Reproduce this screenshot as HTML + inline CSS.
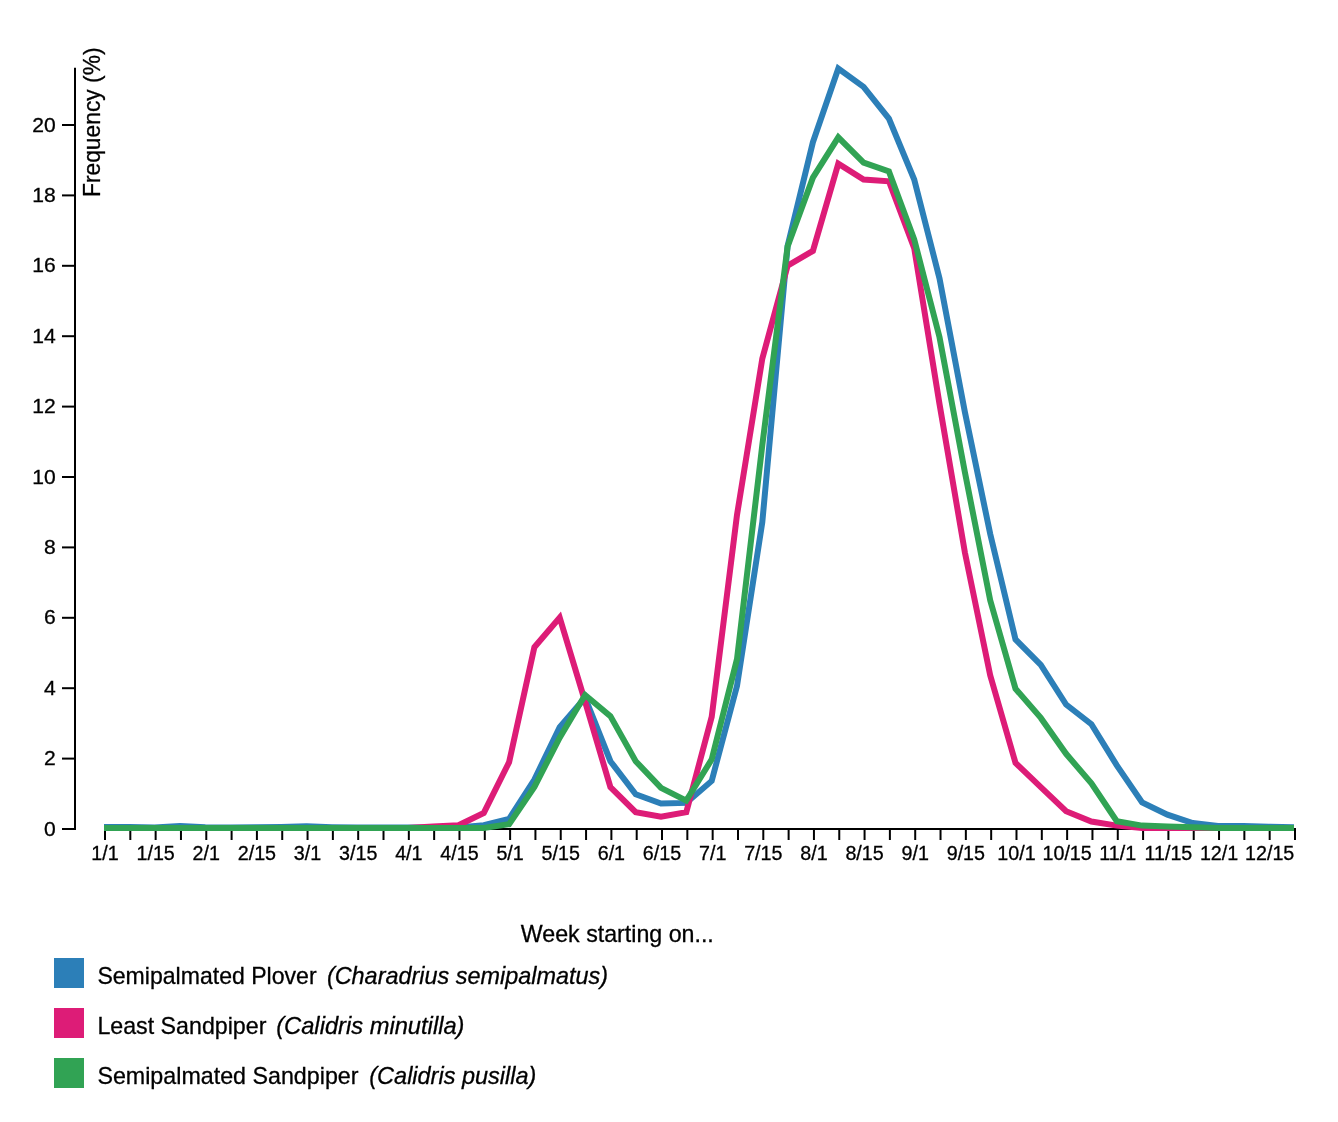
<!DOCTYPE html>
<html lang="en"><head><meta charset="utf-8"><title>Shorebird frequency</title>
<style>
html,body{margin:0;padding:0;background:#fff;}
svg{display:block;font-family:"Liberation Sans",sans-serif;}
.axis line,.axis path{stroke:#000;stroke-width:2;fill:none;}
.axis text{font-size:19.7px;fill:#000;}
.ln{fill:none;stroke-width:6;stroke-linejoin:miter;stroke-linecap:butt;}
.lbl{font-size:24px;fill:#000;}
text{stroke:#000;stroke-width:0.3px;}
.albl{font-size:24px;fill:#000;}
</style></head><body>
<svg width="1338" height="1122" viewBox="0 0 1338 1122">

<g class="axis">
<path d="M75.00,67.80V830.00"/>
<line x1="62.00" x2="75.00" y1="829.00" y2="829.00"/>
<text transform="translate(55.80,835.50) scale(1.07,1)" text-anchor="end">0</text>
<line x1="62.00" x2="75.00" y1="758.60" y2="758.60"/>
<text transform="translate(55.80,765.10) scale(1.07,1)" text-anchor="end">2</text>
<line x1="62.00" x2="75.00" y1="688.20" y2="688.20"/>
<text transform="translate(55.80,694.70) scale(1.07,1)" text-anchor="end">4</text>
<line x1="62.00" x2="75.00" y1="617.80" y2="617.80"/>
<text transform="translate(55.80,624.30) scale(1.07,1)" text-anchor="end">6</text>
<line x1="62.00" x2="75.00" y1="547.40" y2="547.40"/>
<text transform="translate(55.80,553.90) scale(1.07,1)" text-anchor="end">8</text>
<line x1="62.00" x2="75.00" y1="477.00" y2="477.00"/>
<text transform="translate(55.80,483.50) scale(1.07,1)" text-anchor="end">10</text>
<line x1="62.00" x2="75.00" y1="406.60" y2="406.60"/>
<text transform="translate(55.80,413.10) scale(1.07,1)" text-anchor="end">12</text>
<line x1="62.00" x2="75.00" y1="336.20" y2="336.20"/>
<text transform="translate(55.80,342.70) scale(1.07,1)" text-anchor="end">14</text>
<line x1="62.00" x2="75.00" y1="265.80" y2="265.80"/>
<text transform="translate(55.80,272.30) scale(1.07,1)" text-anchor="end">16</text>
<line x1="62.00" x2="75.00" y1="195.40" y2="195.40"/>
<text transform="translate(55.80,201.90) scale(1.07,1)" text-anchor="end">18</text>
<line x1="62.00" x2="75.00" y1="125.00" y2="125.00"/>
<text transform="translate(55.80,131.50) scale(1.07,1)" text-anchor="end">20</text>
</g>
<g class="axis">
<path d="M105.00,840.00V829.00H1295.00V840.00"/>
<line x1="105.00" x2="105.00" y1="828.00" y2="840.00"/>
<text transform="translate(105.00,859.90) scale(1.0,1)" text-anchor="middle">1/1</text>
<line x1="130.32" x2="130.32" y1="828.00" y2="840.00"/>
<line x1="155.64" x2="155.64" y1="828.00" y2="840.00"/>
<text transform="translate(155.64,859.90) scale(1.0,1)" text-anchor="middle">1/15</text>
<line x1="180.96" x2="180.96" y1="828.00" y2="840.00"/>
<line x1="206.28" x2="206.28" y1="828.00" y2="840.00"/>
<text transform="translate(206.28,859.90) scale(1.0,1)" text-anchor="middle">2/1</text>
<line x1="231.60" x2="231.60" y1="828.00" y2="840.00"/>
<line x1="256.91" x2="256.91" y1="828.00" y2="840.00"/>
<text transform="translate(256.91,859.90) scale(1.0,1)" text-anchor="middle">2/15</text>
<line x1="282.23" x2="282.23" y1="828.00" y2="840.00"/>
<line x1="307.55" x2="307.55" y1="828.00" y2="840.00"/>
<text transform="translate(307.55,859.90) scale(1.0,1)" text-anchor="middle">3/1</text>
<line x1="332.87" x2="332.87" y1="828.00" y2="840.00"/>
<line x1="358.19" x2="358.19" y1="828.00" y2="840.00"/>
<text transform="translate(358.19,859.90) scale(1.0,1)" text-anchor="middle">3/15</text>
<line x1="383.51" x2="383.51" y1="828.00" y2="840.00"/>
<line x1="408.83" x2="408.83" y1="828.00" y2="840.00"/>
<text transform="translate(408.83,859.90) scale(1.0,1)" text-anchor="middle">4/1</text>
<line x1="434.15" x2="434.15" y1="828.00" y2="840.00"/>
<line x1="459.47" x2="459.47" y1="828.00" y2="840.00"/>
<text transform="translate(459.47,859.90) scale(1.0,1)" text-anchor="middle">4/15</text>
<line x1="484.79" x2="484.79" y1="828.00" y2="840.00"/>
<line x1="510.11" x2="510.11" y1="828.00" y2="840.00"/>
<text transform="translate(510.11,859.90) scale(1.0,1)" text-anchor="middle">5/1</text>
<line x1="535.43" x2="535.43" y1="828.00" y2="840.00"/>
<line x1="560.74" x2="560.74" y1="828.00" y2="840.00"/>
<text transform="translate(560.74,859.90) scale(1.0,1)" text-anchor="middle">5/15</text>
<line x1="586.06" x2="586.06" y1="828.00" y2="840.00"/>
<line x1="611.38" x2="611.38" y1="828.00" y2="840.00"/>
<text transform="translate(611.38,859.90) scale(1.0,1)" text-anchor="middle">6/1</text>
<line x1="636.70" x2="636.70" y1="828.00" y2="840.00"/>
<line x1="662.02" x2="662.02" y1="828.00" y2="840.00"/>
<text transform="translate(662.02,859.90) scale(1.0,1)" text-anchor="middle">6/15</text>
<line x1="687.34" x2="687.34" y1="828.00" y2="840.00"/>
<line x1="712.66" x2="712.66" y1="828.00" y2="840.00"/>
<text transform="translate(712.66,859.90) scale(1.0,1)" text-anchor="middle">7/1</text>
<line x1="737.98" x2="737.98" y1="828.00" y2="840.00"/>
<line x1="763.30" x2="763.30" y1="828.00" y2="840.00"/>
<text transform="translate(763.30,859.90) scale(1.0,1)" text-anchor="middle">7/15</text>
<line x1="788.62" x2="788.62" y1="828.00" y2="840.00"/>
<line x1="813.94" x2="813.94" y1="828.00" y2="840.00"/>
<text transform="translate(813.94,859.90) scale(1.0,1)" text-anchor="middle">8/1</text>
<line x1="839.26" x2="839.26" y1="828.00" y2="840.00"/>
<line x1="864.57" x2="864.57" y1="828.00" y2="840.00"/>
<text transform="translate(864.57,859.90) scale(1.0,1)" text-anchor="middle">8/15</text>
<line x1="889.89" x2="889.89" y1="828.00" y2="840.00"/>
<line x1="915.21" x2="915.21" y1="828.00" y2="840.00"/>
<text transform="translate(915.21,859.90) scale(1.0,1)" text-anchor="middle">9/1</text>
<line x1="940.53" x2="940.53" y1="828.00" y2="840.00"/>
<line x1="965.85" x2="965.85" y1="828.00" y2="840.00"/>
<text transform="translate(965.85,859.90) scale(1.0,1)" text-anchor="middle">9/15</text>
<line x1="991.17" x2="991.17" y1="828.00" y2="840.00"/>
<line x1="1016.49" x2="1016.49" y1="828.00" y2="840.00"/>
<text transform="translate(1016.49,859.90) scale(1.0,1)" text-anchor="middle">10/1</text>
<line x1="1041.81" x2="1041.81" y1="828.00" y2="840.00"/>
<line x1="1067.13" x2="1067.13" y1="828.00" y2="840.00"/>
<text transform="translate(1067.13,859.90) scale(1.0,1)" text-anchor="middle">10/15</text>
<line x1="1092.45" x2="1092.45" y1="828.00" y2="840.00"/>
<line x1="1117.77" x2="1117.77" y1="828.00" y2="840.00"/>
<text transform="translate(1117.77,859.90) scale(1.0,1)" text-anchor="middle">11/1</text>
<line x1="1143.09" x2="1143.09" y1="828.00" y2="840.00"/>
<line x1="1168.40" x2="1168.40" y1="828.00" y2="840.00"/>
<text transform="translate(1168.40,859.90) scale(1.0,1)" text-anchor="middle">11/15</text>
<line x1="1193.72" x2="1193.72" y1="828.00" y2="840.00"/>
<line x1="1219.04" x2="1219.04" y1="828.00" y2="840.00"/>
<text transform="translate(1219.04,859.90) scale(1.0,1)" text-anchor="middle">12/1</text>
<line x1="1244.36" x2="1244.36" y1="828.00" y2="840.00"/>
<line x1="1269.68" x2="1269.68" y1="828.00" y2="840.00"/>
<text transform="translate(1269.68,859.90) scale(1.0,1)" text-anchor="middle">12/15</text>
<line x1="1295.00" x2="1295.00" y1="828.00" y2="840.00"/>
</g>
<path class="ln" stroke="#2c7fb8" d="M104.0,827.0L129.3,827.0L154.6,827.6L180.0,826.1L205.3,827.3L230.6,827.6L255.9,827.3L281.2,827.0L306.6,826.3L331.9,827.2L357.2,827.6L382.5,827.5L407.8,827.6L433.1,827.6L458.5,827.6L483.8,825.2L509.1,818.9L534.4,779.5L559.7,727.1L585.1,697.8L610.4,761.2L635.7,794.3L661.0,803.6L686.3,802.9L711.7,780.9L737.0,685.9L762.3,522.2L787.6,246.0L812.9,142.2L838.3,68.6L863.6,86.9L888.9,118.6L914.2,179.5L939.5,278.4L964.9,412.1L990.2,533.9L1015.5,639.4L1040.8,664.8L1066.1,704.5L1091.4,724.2L1116.8,765.4L1142.1,802.4L1167.4,814.7L1192.7,823.1L1218.0,825.9L1243.4,826.1L1268.7,826.8L1294.0,827.2"/>
<path class="ln" stroke="#dd1c77" d="M104.0,828.0L129.3,828.0L154.6,828.0L180.0,828.0L205.3,828.0L230.6,828.0L255.9,828.0L281.2,828.0L306.6,828.0L331.9,828.0L357.2,828.0L382.5,828.0L407.8,828.0L433.1,826.6L458.5,825.2L483.8,812.9L509.1,762.2L534.4,647.2L559.7,617.6L585.1,701.7L610.4,787.2L635.7,812.2L661.0,816.8L686.3,812.2L711.7,716.8L737.0,514.9L762.3,358.6L787.6,265.7L812.9,250.9L838.3,163.7L863.6,179.5L888.9,181.3L914.2,248.1L939.5,404.0L964.9,552.5L990.2,675.3L1015.5,762.9L1040.8,787.2L1066.1,811.2L1091.4,821.5L1116.8,825.6L1142.1,828.0L1167.4,828.0L1192.7,828.0L1218.0,828.0L1243.4,828.0L1268.7,828.0L1294.0,828.0"/>
<path class="ln" stroke="#31a354" d="M104.0,828.0L129.3,828.0L154.6,828.0L180.0,828.0L205.3,828.0L230.6,828.0L255.9,828.0L281.2,828.0L306.6,828.0L331.9,828.0L357.2,828.0L382.5,828.0L407.8,828.0L433.1,828.0L458.5,828.0L483.8,828.0L509.1,824.2L534.4,786.9L559.7,737.6L585.1,695.0L610.4,716.1L635.7,761.2L661.0,787.9L686.3,800.6L711.7,759.4L737.0,659.1L762.3,445.2L787.6,246.4L812.9,177.7L838.3,137.3L863.6,162.6L888.9,171.4L914.2,239.3L939.5,337.1L964.9,472.3L990.2,600.4L1015.5,688.7L1040.8,717.9L1066.1,753.8L1091.4,783.4L1116.8,821.2L1142.1,825.6L1167.4,826.6L1192.7,827.3L1218.0,828.0L1243.4,828.0L1268.7,828.0L1294.0,828.0"/>
<text class="albl" transform="translate(100,197) rotate(-90)" textLength="149.5" lengthAdjust="spacingAndGlyphs">Frequency (%)</text>
<text class="albl" x="520.8" y="941.8" textLength="193" lengthAdjust="spacingAndGlyphs">Week starting on...</text>
<rect x="54" y="958" width="30" height="30" fill="#2c7fb8"/>
<text class="lbl" x="97.4" y="983.8" textLength="219.2" lengthAdjust="spacingAndGlyphs">Semipalmated Plover</text>
<text class="lbl" font-style="italic" x="326.9" y="983.8" textLength="281.1" lengthAdjust="spacingAndGlyphs">(Charadrius semipalmatus)</text>
<rect x="54" y="1008" width="30" height="30" fill="#dd1c77"/>
<text class="lbl" x="97.4" y="1033.8" textLength="169.0" lengthAdjust="spacingAndGlyphs">Least Sandpiper</text>
<text class="lbl" font-style="italic" x="276.2" y="1033.8" textLength="188.3" lengthAdjust="spacingAndGlyphs">(Calidris minutilla)</text>
<rect x="54" y="1058" width="30" height="30" fill="#31a354"/>
<text class="lbl" x="97.4" y="1083.8" textLength="261.1" lengthAdjust="spacingAndGlyphs">Semipalmated Sandpiper</text>
<text class="lbl" font-style="italic" x="369.3" y="1083.8" textLength="167.0" lengthAdjust="spacingAndGlyphs">(Calidris pusilla)</text>
</svg></body></html>
